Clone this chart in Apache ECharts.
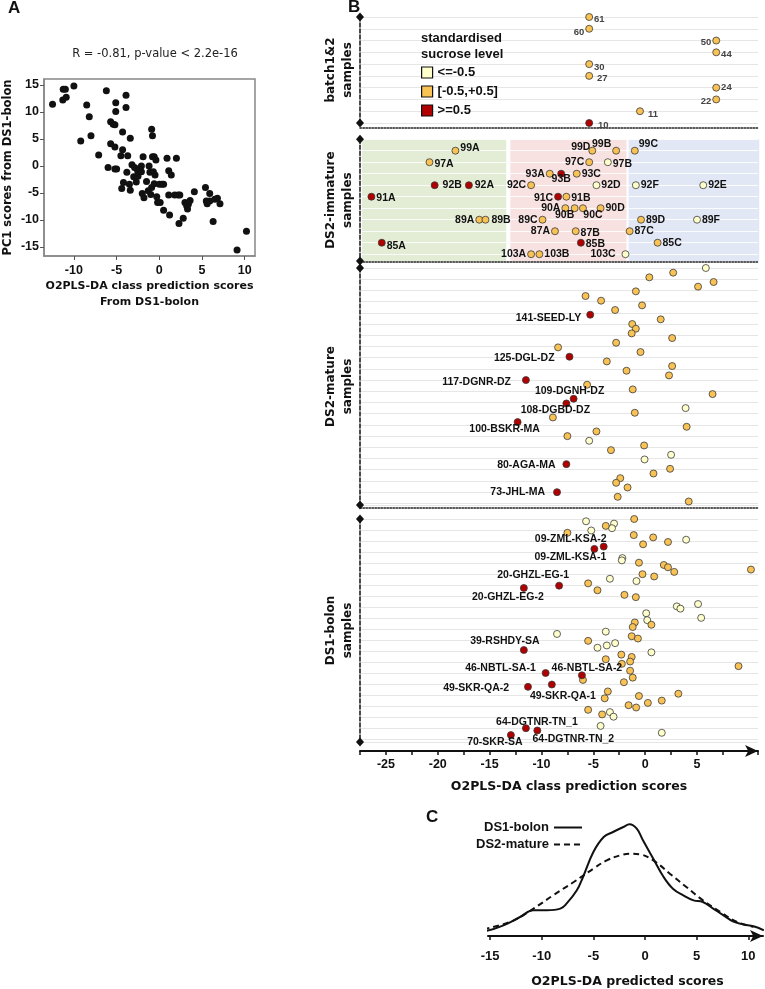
<!DOCTYPE html>
<html><head><meta charset="utf-8">
<script src="https://cdn.jsdelivr.net/npm/echarts@6/dist/echarts.min.js"></script>
<style>html,body{margin:0;padding:0;background:#fff}#c{width:765px;height:989px}</style>
</head><body><div id="c"></div><script>
// ---------------- DATA ----------------
// Panel A
const aScore = [-12.5,-11.3,-11.25,-11.0,-10.9,-10.0,-9.2,-8.5,-8.2,-8.0,
 -7.1,-6.2,-6.0,-5.7,-5.7,-5.4,-5.2,-5.1,-5.1,-5.2,
 -5.0,-5.2,-4.4,-4.3,-4.3,-4.5,-4.2,-3.9,-3.9,-3.8,
 -3.7,-3.5,-3.4,-3.4,-3.2,-3.0,-2.9,-2.7,-2.6,-2.5,
 -2.5,-2.1,-2.1,-2.0,-1.9,-1.8,-1.5,-1.3,-1.2,-1.1,
 -1.0,-0.9,-0.9,-0.8,-0.8,-0.7,-0.6,-0.6,-0.5,-0.4,
 -0.3,-0.2,0,0.1,0.3,0.5,0.5,0.9,1.1,1.1,
 1.2,1.4,1.8,2.0,2.2,2.3,2.4,2.8,3.0,3.2,
 3.3,3.4,3.6,4.1,5.4,5.5,5.6,5.9,5.9,6.3,
 6.5,6.8,7.1,9.1,10.2];
const aPC1 = [11.4,12.2,14.2,14.2,12.7,14.8,4.6,11.3,9.1,5.6,
 2.0,13.9,-0.3,8.2,4.1,7.7,3.5,11.7,10.1,7.6,
 -0.6,-0.6,-4.2,6.3,3.0,1.9,-3.1,10.8,13.1,-1.2,
 1.9,-3.4,-4.5,5.1,0.2,-2.0,-0.3,-3.0,-0.6,-1.9,
 -1.2,0,-1.1,-5.1,1.7,-5.9,-2.9,-4.6,0,-1.2,
 -5.3,-4.0,6.8,5.6,1.7,-1.1,1.7,-3.3,-1.7,1.1,
 -5.7,-6.8,-3.4,-6.8,-3.4,-3.4,-8.2,1.4,-0.9,-5.4,
 -9.1,-1.7,-5.4,1.4,-5.4,-10.7,-5.4,-9.7,-6.8,-7.4,
 -8.0,-7.1,-6.4,-4.8,-4.0,-6.5,-7.0,-5.1,-6.5,-10.3,
 -6.2,-6.0,-7.0,-15.6,-12.1];
const aTicks = [-10,-5,0,5,10];
const aYTicks = [-15,-10,-5,0,5,10,15];

// Panel B - classes
const classNames = ['<=-0.5','[-0.5,+0.5]','>=0.5'];

// batch1&2
const batchNames = ['61','60','50','44','30','27','24','22','11','10'];
const batchRow   = [0,1,2,3,4,5,6,7,8,9];
const batchScore = [-5.4,-5.4,6.85,6.85,-5.4,-5.4,6.85,6.85,-0.5,-5.4];
const batchClass = [1,1,1,1,1,1,1,1,1,2];

// DS2-immature
const immNames = ['99A','99D','99B','99C','97A','97C','97B','93A','93B','93C',
 '92B','92A','92C','92D','92F','92E','91A','91C','91B','90A','90B','90C','90D',
 '89A','89B','89C','89D','89F','87A','87B','87C','85A','85B','85C','103A','103B','103C'];
const immRow = [0,0,0,0,1,1,1,2,2,2,3,3,3,3,3,3,4,4,4,5,5,5,5,6,6,6,6,6,7,7,7,8,8,8,9,9,9];
const immScore = [-18.3,-5.1,-2.8,-1.0,-20.8,-5.4,-3.6,-9.2,-8.1,-6.6,
 -20.3,-17.0,-11.0,-4.7,-0.9,5.6,-26.4,-8.4,-7.6,-7.7,-6.8,-6.0,-4.3,
 -16.0,-15.4,-9.9,-0.4,5.0,-8.7,-6.7,-1.5,-25.4,-6.2,1.2,-11.0,-10.2,-1.9];
const immClass = [1,1,1,1,1,1,0,1,2,1,2,2,1,0,0,0,2,2,1,1,1,1,1,1,1,1,1,0,1,1,1,2,2,1,1,1,0];
// immature class regions (score ranges)
const immBoxFrom = [-27.3,-13.0,-1.6];
const immBoxTo   = [-13.4,-1.8,11.0];

// DS2-mature
const matRow = [0,1,2,3,4,5,6,7,8,9,10,11,12,13,14,15,16,17,18,19,20,21,22,23,24,25,
 26,27,28,29,30,31,32,33,34,35,36,37,38,39,40,41,42,43,44,45,46,47,48,49,50];
const matScore = [5.85,2.7,0.4,6.6,5.1,-0.9,-5.75,-4.25,-0.3,-2.9,-5.3,1.5,-1.25,-0.9,-1.3,2.6,
 -2.8,-8.4,-0.45,-7.3,-3.7,2.6,-1.8,2.3,-11.5,-5.6,-1.2,6.5,-6.9,-7.6,3.9,-1.0,-8.9,-12.3,
 4.0,-4.7,-7.5,-5.4,-0.1,-3.3,2.5,-0.06,-7.6,2.4,0.8,-2.4,-2.8,-1.7,-8.5,-2.65,4.2];
const matClass = [0,1,1,1,1,1,1,1,1,1,2,1,1,1,1,1,1,1,1,2,1,1,1,1,2,1,
 1,1,2,2,0,1,1,2,1,1,1,0,1,1,0,0,2,1,1,1,1,1,2,1,1];
const matLabels = {10:'141-SEED-LY',19:'125-DGL-DZ',24:'117-DGNR-DZ',28:'109-DGNH-DZ',
 29:'108-DGBD-DZ',33:'100-BSKR-MA',42:'80-AGA-MA',48:'73-JHL-MA'};

// DS1-bolon
const bolRow = [0,1,2,3,4,5,6,7,8,9,10,11,12,13,
 17,18,19,20,21,22,23,24,25,26,27,28,29,30,31,
 33,34, 37,38,39, 41, 43,44,45,46,47,
 49,50,51,52,53,54,55,56,57,58,59,60,61,62,63,64,
 66,67,68,69,70,71,72,73,
 75,76,77,78,79,80,81,82,83,84,85,86,
 90,91,92,93,94];
const bolScore = [-1.06,-5.7,-3.0,-3.8,-3.2,-5.2,-7.5,-1.1,0.77,3.95,2.2,-0.2,-4.0,-4.9,
 -2.2,-2.25,-0.6,1.8,2.2,10.2,2.8,-0.26,0.87,-3.4,-0.84,-5.5,-8.3,-11.7,-4.6,
 -2.0,-0.9, 5.1,3.05,3.4, 0.1, 5.4,0.2,-1.0,0.6,-1.2,
 -3.8,-8.5,-1.3,-0.7,-5.5,-2.9,-3.7,-4.6,-11.7,0.6,-2.3,-1.3,-3.8,-1.45,-2.25,9.0,
 -1.45,-9.6,-6.1,-1.2,-6.0,-2.05,-9.0,-11.3,
 -3.6,3.2,-0.6,-3.9,1.6,0.26,-1.6,-0.87,-5.5,-3.4,-4.15,-3.05,
 -4.3,-11.5,-10.4,1.6,-12.95];
const bolClass = [1,0,0,1,0,0,1,1,1,0,1,1,2,2,
 0,0,1,1,1,1,1,1,1,0,0,1,2,2,1,
 1,1, 0,0,0, 0, 0,0,1,1,1,
 0,0,1,1,1,0,0,0,2,0,1,1,1,1,1,1,
 1,2,2,1,1,1,2,2,
 1,1,1,1,1,1,1,1,1,0,1,0,
 0,2,2,0,2];
const bolLabels = {12:'09-ZML-KSA-2',13:'09-ZML-KSA-1',29:'20-GHZL-EG-1',30:'20-GHZL-EG-2',
 57:'39-RSHDY-SA',67:'46-NBTL-SA-1',68:'46-NBTL-SA-2',72:'49-SKR-QA-1',73:'49-SKR-QA-2',
 91:'64-DGTNR-TN_1',92:'64-DGTNR-TN_2',94:'70-SKR-SA'};

// Panel C densities
const cBolonX = [-16.6,-15.4,-13.7,-12.1,-10.8,-9.5,-8.2,-7.6,-6.6,-6.0,-5.0,-4.0,-3.1,-2.1,-1.5,-0.8,-0.2,0.8,1.8,2.7,3.7,4.7,5.6,6.6,7.6,8.5,9.5,10.5,11.5];
const cBolonY = [0.0,0.0015,0.010,0.0225,0.0325,0.0325,0.035,0.0425,0.0625,0.0825,0.12,0.1425,0.15,0.1575,0.1615,0.155,0.1375,0.11,0.0825,0.065,0.055,0.0475,0.045,0.035,0.025,0.016,0.0115,0.0085,0.0025];
const cMatureX = [-16.6,-14.7,-12.7,-10.8,-8.9,-6.9,-5.0,-3.7,-2.4,-1.5,-0.5,0.8,2.4,4.0,5.6,7.3,8.9,10.5];
const cMatureY = [0.0015,0.0075,0.0175,0.035,0.055,0.075,0.095,0.1075,0.115,0.1175,0.1165,0.1075,0.0875,0.0675,0.0475,0.03,0.015,0.0075];
const cTicks = [-15,-10,-5,0,5,10];

// ---------------- STYLES ----------------
const SANS = 'Liberation Sans, Arial, sans-serif';
const VERD = 'DejaVu Sans, Verdana, sans-serif';
const classColors = ['#FFFFCC','#F9C255','#B00000'];
const boxColors = ['#E3EDD5','#F8E1E1','#E1E7F5'];
const LBL = { // [position, dx, dy]
 '61':['right',0,2],'60':['left',0,4],'50':['left',0,2],'44':['right',0,2],'30':['right',0,3],
 '27':['right',3,2],'24':['right',0,0],'22':['left',0,1.5],'11':['right',3,3],'10':['right',4,2],
 '99A':['right',0,-3],'97A':['right',0,2],'91A':['right',0,1],'92B':['right',3,0],'92A':['right',1,0],
 '89A':['left',0,0],'89B':['right',1,0],'85A':['right',0,3],'99D':['left',3,-4],'99B':['left',0,-7],
 '99C':['right',-1,-7],'97C':['left',0,0],'97B':['right',0,2],'93A':['left',0,0],'93B':['bottom',0,-5],
 '93C':['right',0,0],'92C':['left',0,0],'92D':['right',0,0],'92F':['right',0,0],'92E':['right',0,0],
 '91C':['left',0,1],'91B':['right',0,1],'90A':['left',0,0],'90B':['bottom',-10,-3],'90C':['bottom',10,-3],
 '90D':['right',0,0],'89C':['left',0,0],'89D':['right',0,0],'89F':['right',0,0],'87A':['left',0,0],
 '87B':['right',0,2],'87C':['right',0,0],'85B':['right',0,1],'85C':['right',0,0],'103A':['left',0,0],
 '103B':['right',0,0],'103C':['left',-5,0],
 '141-SEED-LY':['left',0,3],'125-DGL-DZ':['left',-6,1],'117-DGNR-DZ':['left',-6,2],'109-DGNH-DZ':['top',-4,7],
 '108-DGBD-DZ':['bottom',-11,-8],'100-BSKR-MA':['bottom',-13,-7],'80-AGA-MA':['left',-2,1],'73-JHL-MA':['left',-3,0],
 '09-ZML-KSA-2':['top',-33,7],'09-ZML-KSA-1':['bottom',-24,-6],'20-GHZL-EG-1':['top',-26,4],'20-GHZL-EG-2':['bottom',-16,-5],
 '39-RSHDY-SA':['top',-19,5],'46-NBTL-SA-1':['left',-1,-5],'46-NBTL-SA-2':['top',5,7],'49-SKR-QA-2':['left',-10,1],
 '49-SKR-QA-1':['bottom',11,-3],'64-DGTNR-TN_1':['top',11,8],'64-DGTNR-TN_2':['bottom',36,-6],'70-SKR-SA':['bottom',-16,-7]
};

// ---------------- BUILD ----------------
function groupSeries(axisIdx, names, score, row, cls, lab) {
  const out = [];
  for (let c = 0; c < 3; c++) {
    const data = [];
    for (let i = 0; i < score.length; i++) {
      if (cls[i] !== c) continue;
      const nm = names[i] || '';
      const item = { value: [score[i], row[i]], name: nm };
      if (nm && LBL[nm]) {
        const L = LBL[nm];
        item.label = { position: L[0], offset: [L[1], L[2]] };
      }
      data.push(item);
    }
    out.push({
      type: 'scatter', name: classNames[c], xAxisIndex: axisIdx, yAxisIndex: axisIdx,
      symbolSize: 7, z: 3,
      itemStyle: { color: classColors[c], borderColor: '#3a3a3a', borderWidth: 0.8, opacity: 1 },
      label: Object.assign({ show: true, formatter: '{b}', fontFamily: SANS, fontWeight: 'bold' }, lab),
      emphasis: { disabled: true },
      data: data
    });
  }
  return out;
}

const matNames = matRow.map((r) => matLabels[r] || '');
const bolNames = bolRow.map((r) => bolLabels[r] || '');

const IMM_MIN = -1, IMM_MAX = 9.59;

function bYAxis(grid, min, max, interval, name, splitColor) {
  return {
    gridIndex: grid, type: 'value', inverse: true, min: min, max: max, interval: interval,
    axisLine: { show: true, onZero: false, symbol: ['diamond', 'diamond'], symbolSize: [8, 9],
      lineStyle: { color: '#111', width: 1.5, type: [4, 2] } },
    axisTick: { show: false }, axisLabel: { show: false },
    splitLine: { show: true, lineStyle: { color: splitColor, width: 1 } },
    name: name, nameLocation: 'middle', nameRotate: 90, nameGap: 4,
    nameTextStyle: { fontFamily: VERD, fontWeight: 'bold', fontSize: 12, color: '#111', lineHeight: 17, align: 'center' }
  };
}
function bXAxisHidden(grid, offset) {
  return {
    gridIndex: grid, type: 'value', min: -27.5, max: 10.88, offset: offset,
    axisLine: { show: true, onZero: false, lineStyle: { color: '#222', width: 1.5, type: 'dotted' } },
    axisTick: { show: false }, axisLabel: { show: false }, splitLine: { show: false }
  };
}

const option = {
  animation: false,
  backgroundColor: '#fff',
  title: [
    { text: 'A', left: 8, top: 0, padding: 0, textStyle: { fontFamily: SANS, fontWeight: 'bold', fontSize: 17, color: '#111' } },
    { text: 'B', left: 348, top: -1, padding: 0, textStyle: { fontFamily: SANS, fontWeight: 'bold', fontSize: 17, color: '#111' } },
    { text: 'C', left: 426, top: 809, padding: 0, textStyle: { fontFamily: SANS, fontWeight: 'bold', fontSize: 17, color: '#111' } },
    { text: 'R = -0.81, p-value < 2.2e-16', left: 155, top: 48, padding: 0, textAlign: 'center',
      textStyle: { fontFamily: VERD, fontWeight: 'normal', fontSize: 11.5, color: '#222' } },
    { text: 'standardised\nsucrose level', left: 421, top: 30, padding: 0,
      textStyle: { fontFamily: SANS, fontWeight: 'bold', fontSize: 13, lineHeight: 16, color: '#111' } }
  ],
  legend: [
    { data: classNames, orient: 'vertical', left: 421, top: 66, padding: 0, itemWidth: 11, itemHeight: 11, itemGap: 6,
      icon: 'rect', selectedMode: false,
      itemStyle: { borderColor: '#111', borderWidth: 1.2 },
      textStyle: { fontFamily: SANS, fontWeight: 'bold', fontSize: 13, color: '#111' } },
    { data: ['DS1-bolon'], right: 182, top: 821, padding: 0, align: 'right', itemWidth: 28, itemHeight: 12,
      selectedMode: false, itemStyle: { opacity: 0 },
      textStyle: { fontFamily: SANS, fontWeight: 'bold', fontSize: 13, color: '#111' } },
    { data: ['DS2-mature'], right: 182, top: 838, padding: 0, align: 'right', itemWidth: 28, itemHeight: 12,
      selectedMode: false, itemStyle: { opacity: 0 },
      textStyle: { fontFamily: SANS, fontWeight: 'bold', fontSize: 13, color: '#111' } }
  ],
  grid: [
    { left: 44, top: 79, width: 211, height: 177, show: true, borderColor: '#888', borderWidth: 1.5 },
    { left: 360, top: 17, width: 398, height: 106 },
    { left: 360, top: 139.2, width: 398, height: 121.8 },
    { left: 360, top: 268, width: 398, height: 237 },
    { left: 360, top: 519, width: 398, height: 223 },
    { left: 488, top: 818, width: 275, height: 118 }
  ],
  xAxis: [
    { gridIndex: 0, type: 'value', min: -13.5, max: 11.2,
      axisLine: { onZero: false, lineStyle: { color: '#888', width: 1.5 } },
      axisTick: { customValues: aTicks, length: 4, lineStyle: { color: '#555' } },
      axisLabel: { customValues: aTicks, fontFamily: SANS, fontWeight: 'bold', fontSize: 12.5, color: '#111', margin: 8 },
      splitLine: { show: false },
      name: 'O2PLS-DA class prediction scores\nFrom DS1-bolon', nameLocation: 'middle', nameGap: 19,
      nameTextStyle: { fontFamily: VERD, fontWeight: 'bold', fontSize: 11, lineHeight: 16, color: '#111' } },
    bXAxisHidden(1, 5),
    bXAxisHidden(2, 1),
    bXAxisHidden(3, 3),
    { gridIndex: 4, type: 'value', min: -27.5, max: 10.88, interval: 2.5, offset: 9,
      axisLine: { show: true, onZero: false, symbol: ['none', 'arrow'], symbolSize: [9, 13], lineStyle: { color: '#111', width: 2 } },
      axisTick: { show: true, length: 4, lineStyle: { color: '#111', width: 1.5 } },
      axisLabel: { fontFamily: SANS, fontWeight: 'bold', fontSize: 12.5, color: '#111', margin: 7,
        formatter: (v) => (Math.abs(v % 5) < 1e-9 && v <= 5) ? String(v) : '' },
      splitLine: { show: false },
      name: 'O2PLS-DA class prediction scores', nameLocation: 'middle', nameGap: 29,
      nameTextStyle: { fontFamily: VERD, fontWeight: 'bold', fontSize: 12.5, color: '#111', padding: [0, 0, 0, 20] } },
    { gridIndex: 5, type: 'value', min: -15.2, max: 11.42,
      axisLine: { show: true, onZero: false, symbol: ['none', 'arrow'], symbolSize: [9, 13], lineStyle: { color: '#111', width: 2 } },
      axisTick: { customValues: cTicks, length: 4, lineStyle: { color: '#111', width: 1.5 } },
      axisLabel: { customValues: cTicks, fontFamily: SANS, fontWeight: 'bold', fontSize: 13, color: '#111', margin: 14 },
      splitLine: { show: false },
      name: 'O2PLS-DA predicted scores', nameLocation: 'middle', nameGap: 39,
      nameTextStyle: { fontFamily: VERD, fontWeight: 'bold', fontSize: 12.5, color: '#111', padding: [0, 0, 0, 4] } }
  ],
  yAxis: [
    { gridIndex: 0, type: 'value', min: -16.7, max: 16.1,
      axisLine: { onZero: false, lineStyle: { color: '#888', width: 1.5 } },
      axisTick: { customValues: aYTicks, length: 4, lineStyle: { color: '#555' } },
      axisLabel: { customValues: aYTicks, fontFamily: SANS, fontWeight: 'bold', fontSize: 12.5, color: '#111', margin: 5 },
      splitLine: { show: false },
      name: 'PC1 scores from DS1-bolon', nameLocation: 'middle', nameRotate: 90, nameGap: 30,
      nameTextStyle: { fontFamily: VERD, fontWeight: 'bold', fontSize: 11.5, color: '#111' } },
    bYAxis(1, 0, 9, 1, 'batch1&2\nsamples', '#e6e6e6'),
    bYAxis(2, IMM_MIN, IMM_MAX, 1, 'DS2-immature\nsamples', 'rgba(255,255,255,0.85)'),
    bYAxis(3, 0, 50.75, 2.4, 'DS2-mature\nsamples', '#e6e6e6'),
    bYAxis(4, 0, 97, 4.8, 'DS1-bolon\nsamples', '#e6e6e6'),
    { gridIndex: 5, type: 'value', min: -0.006, max: 0.171, show: false }
  ],
  series: []
};

// Panel A
option.series.push({
  type: 'scatter', xAxisIndex: 0, yAxisIndex: 0, symbolSize: 7,
  itemStyle: { color: '#111', opacity: 1 }, emphasis: { disabled: true },
  data: aScore.map((x, i) => [x, aPC1[i]])
});

// immature regions
option.series.push({
  type: 'custom', xAxisIndex: 2, yAxisIndex: 2, z: -1, silent: true,
  renderItem: function (params, api) {
    const p0 = api.coord([api.value(0), IMM_MIN]);
    const p1 = api.coord([api.value(1), IMM_MAX]);
    return { type: 'rect',
      shape: { x: p0[0], y: Math.min(p0[1], p1[1]), width: p1[0] - p0[0], height: Math.abs(p1[1] - p0[1]) },
      style: { fill: api.visual('color') } };
  },
  encode: { x: [0, 1] },
  data: immBoxFrom.map((f, i) => ({ value: [f, immBoxTo[i]], itemStyle: { color: boxColors[i] } }))
});

const smallLab = { fontSize: 9.5, color: '#444', distance: 1 };
const immLab = { fontSize: 10.5, color: '#111', distance: 1 };
const bigLab = { fontSize: 10.5, color: '#111', distance: 5 };
option.series.push(...groupSeries(1, batchNames, batchScore, batchRow, batchClass, smallLab));
option.series.push(...groupSeries(2, immNames, immScore, immRow, immClass, immLab));
option.series.push(...groupSeries(3, matNames, matScore, matRow, matClass, bigLab));
option.series.push(...groupSeries(4, bolNames, bolScore, bolRow, bolClass, bigLab));

// Panel C
option.series.push({
  type: 'line', name: 'DS1-bolon', xAxisIndex: 5, yAxisIndex: 5, smooth: 0.4, symbol: 'none', clip: false,
  lineStyle: { color: '#111', width: 2 }, itemStyle: { color: '#111' },
  data: cBolonX.map((x, i) => [x, cBolonY[i]])
});
option.series.push({
  type: 'line', name: 'DS2-mature', xAxisIndex: 5, yAxisIndex: 5, smooth: 0.4, symbol: 'none', clip: false,
  lineStyle: { color: '#111', width: 2, type: [6, 4] }, itemStyle: { color: '#111' },
  data: cMatureX.map((x, i) => [x, cMatureY[i]])
});

const chart = echarts.init(document.getElementById('c'), null, { renderer: 'canvas' });
chart.setOption(option);
</script></body></html>
